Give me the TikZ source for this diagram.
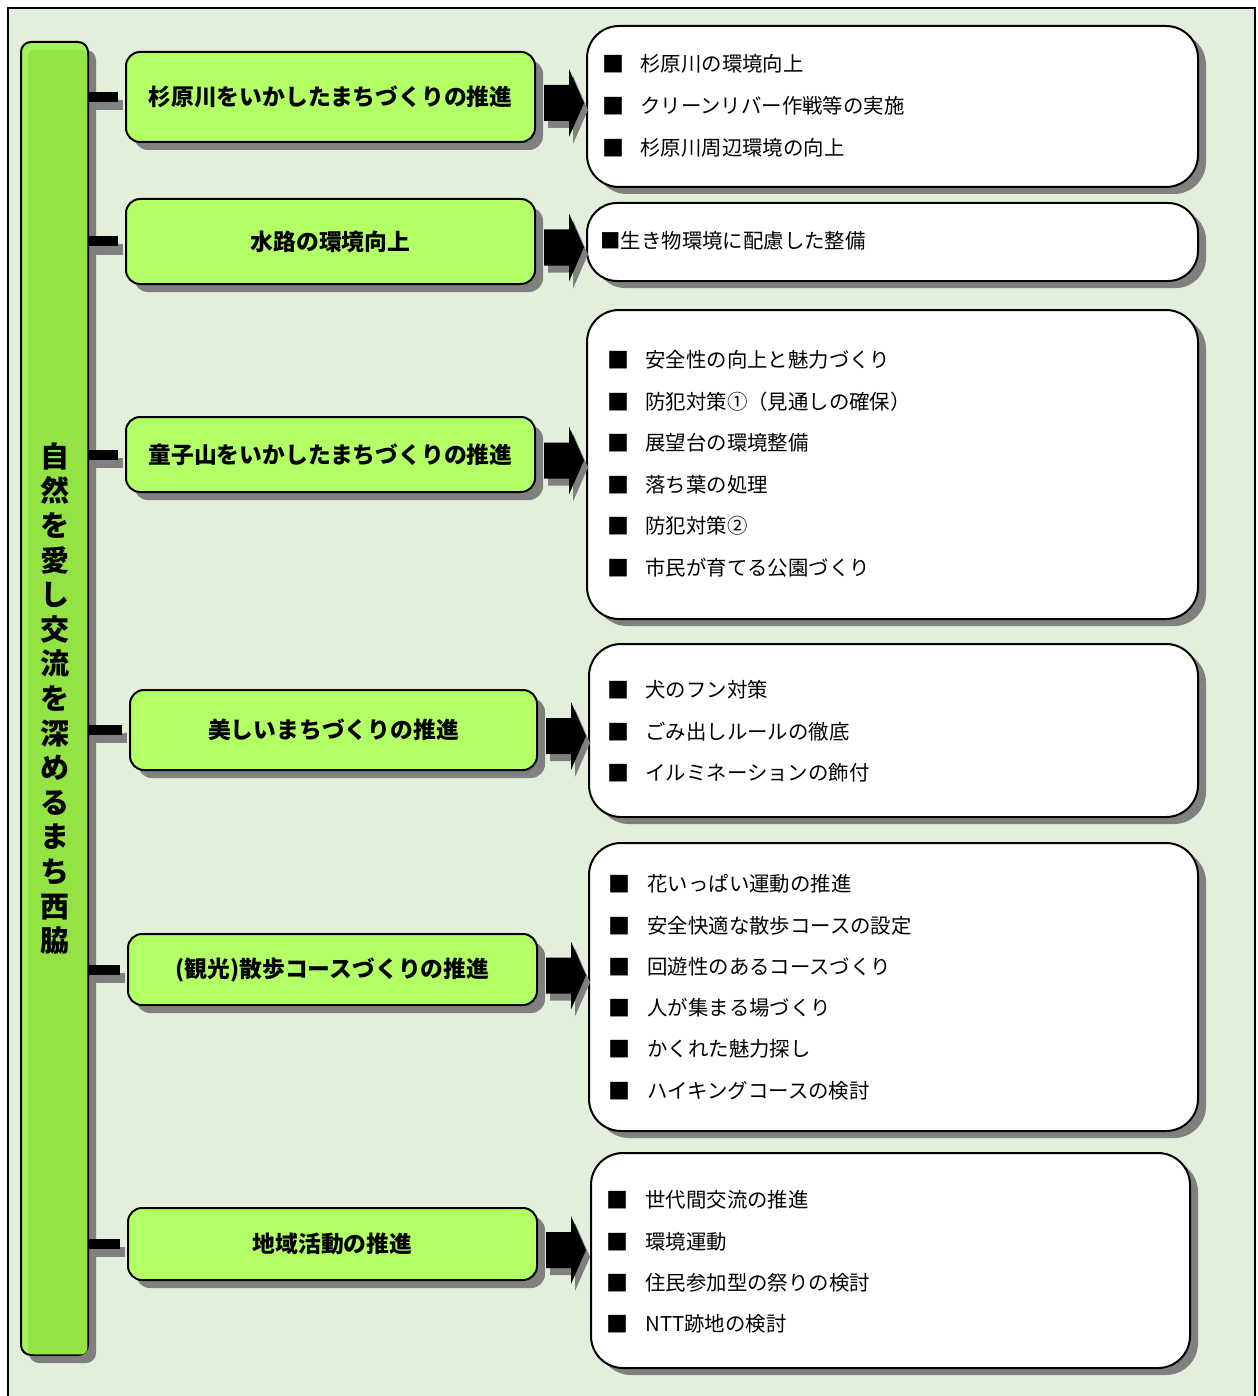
\documentclass[tikz,border=0pt]{standalone}
\usepackage{fontspec}
\setmainfont{Noto Sans CJK JP}
\usetikzlibrary{shadows,calc}
\definecolor{bgc}{HTML}{E2EFDA}
\definecolor{gfill}{HTML}{B3FF66}
\definecolor{barc}{HTML}{92E343}
\definecolor{barl}{HTML}{A6F25A}
\definecolor{shadowc}{HTML}{808080}
\newcommand\blkarrow[3]{%
  \fill[#2] ($(#1.east)+(8,-12)+(#3)$) -- ++(25,0) -- ++(0,-16) -- ++(15,34)
    -- ++(-15,34) -- ++(0,-16) -- ++(-25,0) -- cycle;}
\begin{document}
\begin{tikzpicture}[x=0.5pt,y=-0.5pt,
  gbox/.style={draw=black, line width=1pt, fill=gfill, rounded corners=7pt, inner sep=0pt,
    font=\fontsize{11.4}{13}\selectfont\bfseries,
    drop shadow={shadow xshift=4pt, shadow yshift=-4pt, fill=shadowc, opacity=1}},
  wbox/.style={draw=black, line width=1pt, fill=white, rounded corners=16pt, inner sep=0pt,
    drop shadow={shadow xshift=4pt, shadow yshift=-3.5pt, fill=shadowc, opacity=1}},
  bul/.style={inner sep=0pt, font=\fontsize{11}{12}\selectfont},
  item/.style={inner sep=0pt, anchor=west, font=\fontsize{10.2}{12}\selectfont},
  conn/.style={line width=5pt, draw=black},
  connsh/.style={line width=5pt, draw=shadowc}]
\useasboundingbox (0,0) rectangle (1257,1396);
% background and frame
\fill[white] (0,0) rectangle (1257,1396);
\fill[bgc] (8,8) rectangle (1255,1396);
\draw[line width=1pt] (8,1396) -- (8,8) -- (1255,8) -- (1255,1396);

% vertical bar
\node[draw=black, line width=1pt, fill=barl, rounded corners=5pt, inner sep=0pt,
  minimum width=67*0.5pt, minimum height=1313*0.5pt,
  drop shadow={shadow xshift=4pt, shadow yshift=-4pt, fill=shadowc, opacity=1}] (bar) at (54.5,698.5) {};
\fill[barc, rounded corners=3pt] (28,50) rectangle (87.3,1354.3);
\node[inner sep=0pt, align=center, font=\fontsize{14.5}{17.3}\selectfont\bfseries] (title) at (bar.center)
  {自\\然\\を\\愛\\し\\交\\流\\を\\深\\め\\る\\ま\\ち\\西\\脇};

% green boxes
\node[gbox, minimum width=409*0.5pt, minimum height=90*0.5pt] (g1) at (330.5,97) {杉原川をいかしたまちづくりの推進};
\node[gbox, minimum width=409*0.5pt, minimum height=85*0.5pt] (g2) at (330.5,241.5) {水路の環境向上};
\node[gbox, minimum width=409*0.5pt, minimum height=75*0.5pt] (g3) at (330.5,454.5) {童子山をいかしたまちづくりの推進};
\node[gbox, minimum width=407*0.5pt, minimum height=80*0.5pt] (g4) at (333.5,730) {美しいまちづくりの推進};
\node[gbox, minimum width=409*0.5pt, minimum height=71*0.5pt] (g5) at (332.5,969.5) {(観光)散歩コースづくりの推進};
\node[gbox, minimum width=409*0.5pt, minimum height=72*0.5pt] (g6) at (332.5,1244) {地域活動の推進};

% white boxes
\node[wbox, minimum width=611*0.5pt, minimum height=161*0.5pt] (w1) at (892.5,106.5) {};
\node[wbox, rounded corners=15pt, minimum width=611*0.5pt, minimum height=78*0.5pt] (w2) at (892.5,242) {};
\node[wbox, minimum width=611*0.5pt, minimum height=309*0.5pt] (w3) at (892.5,464.5) {};
\node[wbox, minimum width=609*0.5pt, minimum height=173*0.5pt] (w4) at (893.5,730.5) {};
\node[wbox, minimum width=609*0.5pt, minimum height=288*0.5pt] (w5) at (893.5,987) {};
\node[wbox, minimum width=599*0.5pt, minimum height=215*0.5pt] (w6) at (890.5,1260.5) {};

% connectors from bar to green boxes
\foreach \g in {g1,g2,g3,g4,g5,g6}{
  \draw[connsh] ($(bar.east |- \g.west)+(6,8)$) -- ($(\g.west)+(-2,8)$);
  \draw[conn] (bar.east |- \g.west) -- ($(\g.west)+(-7,0)$);
}

% block arrows
\foreach \g in {g1,g2,g3,g4,g5,g6}{
  \blkarrow{\g}{shadowc}{4,7}
  \blkarrow{\g}{black}{0,0}
}

% items box 1
\foreach \y/\t [count=\i] in {64/杉原川の環境向上,106/クリーンリバー作戦等の実施,148/杉原川周辺環境の向上}{
  \node[bul] (b1\i) at (613,\y) {■};
  \node[item] (t1\i) at (640,\y) {\t};
}
% box 2
\node[item] (t21) at (600,241) {■生き物環境に配慮した整備};
% box 3
\foreach \y/\t [count=\i] in {360/安全性の向上と魅力づくり,402/防犯対策①（見通しの確保）,443/展望台の環境整備,485/落ち葉の処理,526/防犯対策②,568/市民が育てる公園づくり}{
  \node[bul] (b3\i) at (618,\y) {■};
  \node[item] (t3\i) at (645,\y) {\t};
}
% box 4
\foreach \y/\t [count=\i] in {690/犬のフン対策,732/ごみ出しルールの徹底,773/イルミネーションの飾付}{
  \node[bul] (b4\i) at (618,\y) {■};
  \node[item] (t4\i) at (645,\y) {\t};
}
% box 5
\foreach \y/\t [count=\i] in {884/花いっぱい運動の推進,926/安全快適な散歩コースの設定,967/回遊性のあるコースづくり,1008/人が集まる場づくり,1049/かくれた魅力探し,1091/ハイキングコースの検討}{
  \node[bul] (b5\i) at (619,\y) {■};
  \node[item] (t5\i) at (647,\y) {\t};
}
% box 6
\foreach \y/\t [count=\i] in {1200/世代間交流の推進,1242/環境運動,1283/住民参加型の祭りの検討,1324/NTT跡地の検討}{
  \node[bul] (b6\i) at (617,\y) {■};
  \node[item] (t6\i) at (645,\y) {\t};
}
\end{tikzpicture}
\end{document}
